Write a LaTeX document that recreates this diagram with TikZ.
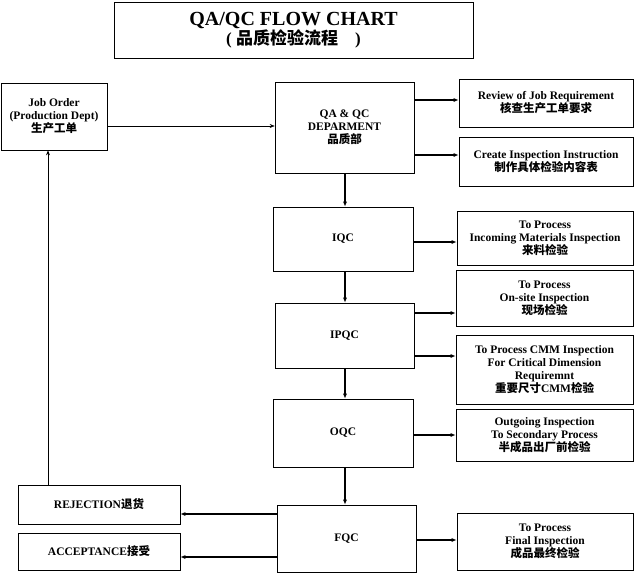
\documentclass[tikz,border=0pt]{standalone}
\usepackage{fontspec}
\setmainfont{Liberation Serif}
\newfontfamily\cjk{Noto Sans CJK SC}
\usetikzlibrary{arrows.meta}
\begin{document}
\begin{tikzpicture}[x=1pt,y=-1pt,
  box/.style={draw,line width=0.6pt,align=center,font=\bfseries\fontsize{11.5}{13}\selectfont,inner sep=1pt},
  arr/.style={-{Latex[length=5pt,width=4pt]},line width=1.2pt},
  tarr/.style={-{Stealth[length=5pt,width=4pt]},line width=0.5pt}]
\useasboundingbox (0,0) rectangle (636,574);
\newcommand\bx[6]{\node[box,minimum width=#4-#2,minimum height=#5-#3] (#1) at ({(#2+#4)/2},{(#3+#5)/2}) {#6};}
\bx{title}{114}{2}{473}{58}{\fontsize{20}{22}\selectfont QA/QC FLOW CHART\\\fontsize{17}{20}\selectfont ( {\cjk 品质检验流程}\quad )}
\bx{job}{1}{83}{107}{150}{Job Order\\(Production Dept)\\{\cjk 生产工单}}
\bx{qa}{275}{82}{414}{173}{QA \& QC\\DEPARMENT\\{\cjk 品质部}}
\bx{rev}{459}{79}{633}{127}{Review of Job Requirement\\{\cjk 核查生产工单要求}}
\bx{cre}{459}{137}{633}{186}{Create Inspection Instruction\\{\cjk 制作具体检验内容表}}
\bx{iqc}{273}{207}{413}{271}{IQC}
\bx{inc}{457}{211}{633}{265}{To Process\\Incoming Materials Inspection\\{\cjk 来料检验}}
\bx{ipqc}{275}{303}{414}{368}{IPQC}
\bx{ons}{456}{270}{633}{326}{To Process\\On-site Inspection\\{\cjk 现场检验}}
\bx{cmm}{456}{335}{633}{404}{To Process CMM Inspection\\For Critical Dimension\\Requiremnt\\{\cjk 重要尺寸}CMM{\cjk 检验}}
\bx{oqc}{273}{399}{413}{467}{OQC}
\bx{out}{456}{409}{633}{461}{Outgoing Inspection\\To Secondary Process\\{\cjk 半成品出厂前检验}}
\bx{fqc}{277}{505}{416}{572}{FQC}
\bx{fin}{457}{513}{633}{570}{To Process\\Final Inspection\\{\cjk 成品最终检验}}
\bx{rej}{18}{485}{180}{524}{REJECTION{\cjk 退货}}
\bx{acc}{18}{533}{180}{570}{ACCEPTANCE{\cjk 接受}}
\coordinate (c1) at (345,0);
\draw[tarr] (job.east|-0,126) -- (qa.west|-0,126);
\draw[arr] (qa.east|-0,100) -- (rev.west|-0,100);
\draw[arr] (qa.east|-0,155) -- (cre.west|-0,155);
\draw[arr] (qa.south-|c1) -- (iqc.north-|c1);
\draw[arr] (iqc.south-|c1) -- (ipqc.north-|c1);
\draw[arr] (ipqc.south-|c1) -- (oqc.north-|c1);
\draw[arr] (oqc.south-|c1) -- (fqc.north-|c1);
\draw[arr] (iqc.east|-0,242) -- (inc.west|-0,242);
\draw[arr] (ipqc.east|-0,313) -- (ons.west|-0,313);
\draw[arr] (ipqc.east|-0,356) -- (cmm.west|-0,356);
\draw[arr] (oqc.east|-0,435) -- (out.west|-0,435);
\draw[arr] (fqc.east|-0,540) -- (fin.west|-0,540);
\draw[arr] (fqc.west|-0,514) -- (rej.east|-0,514);
\draw[arr] (fqc.west|-0,557) -- (acc.east|-0,557);
\coordinate (c2) at (48,0);
\draw[tarr,line width=0.8pt] (rej.north-|c2) -- (job.south-|c2);
\end{tikzpicture}
\end{document}
